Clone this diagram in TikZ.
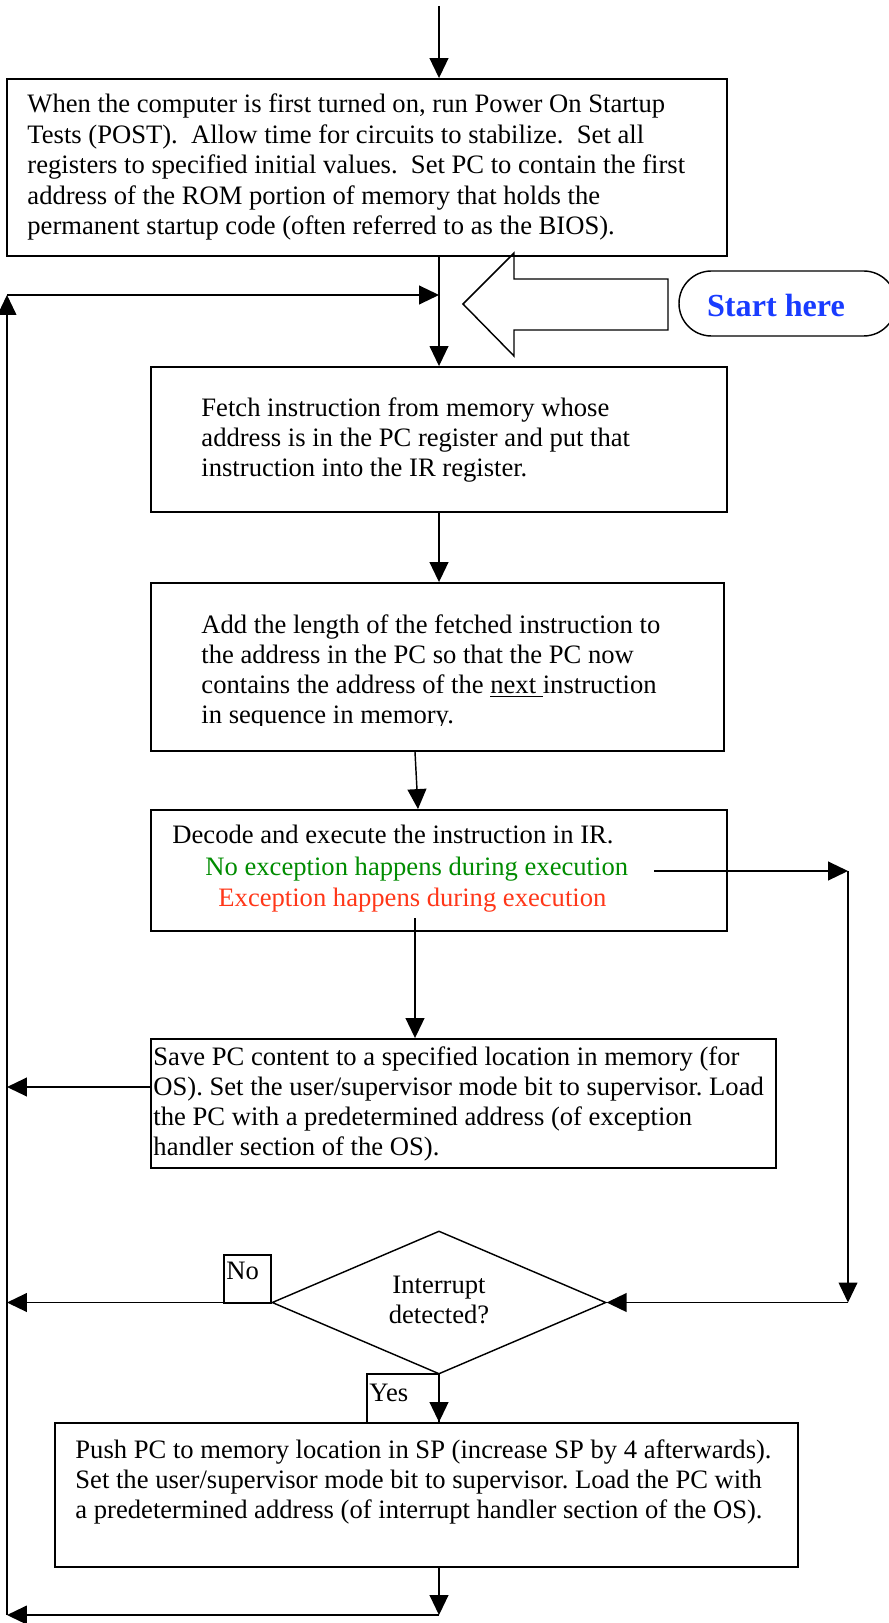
\documentclass[tikz,border=0pt]{standalone}
\usepackage{fontspec}
\setmainfont{Liberation Serif}
\usetikzlibrary{arrows.meta,shapes.geometric,fit}
\definecolor{startblue}{RGB}{25,60,255}
\definecolor{okgreen}{RGB}{0,140,0}
\definecolor{excred}{RGB}{255,55,25}
\frenchspacing
\newcommand\boxlines[2]{\vtop{\baselineskip=#1\lineskiplimit=-20pt\lineskip=0pt\relax #2}}
\begin{document}
\begin{tikzpicture}[x=0.451pt,y=-0.451pt,
  box/.style={draw, line width=0.85pt, inner sep=0pt},
  conn/.style={line width=0.65pt},
  arr/.style={conn, -{Triangle[length=9pt,width=8.5pt]}},
  thinarr/.style={conn, line width=0.5pt, -{Triangle[length=9pt,width=8.5pt]}},
  txt/.style={anchor=base west, inner sep=0pt, font=\fontsize{12}{13.7}\selectfont},
  ctxt/.style={anchor=base, inner sep=0pt, font=\fontsize{12}{13.7}\selectfont},
  lbl/.style={draw, line width=0.5pt, inner sep=0pt}
]
\useasboundingbox (0,0) rectangle (888,1623);
\fill[white] (0,0) rectangle (888,1623);

% boxes
\node[box, fit={(7,79) (727,256)}] (b1) {};
\node[box, fit={(151,367) (727,512)}] (fetch) {};
\node[box, fit={(151,583) (724,751)}] (add) {};
\node[box, fit={(151,810) (727,931)}] (decode) {};
\node[box, fit={(151,1039) (776,1168)}] (save) {};
\node[draw, conn, diamond, inner sep=0pt, minimum width=150.6pt, minimum height=64.5pt] (dia) at (439,1302.5) {};
\node[box, fit={(55,1423) (798,1567)}] (push) {};
\node[draw, conn, rounded corners=14.6pt, inner sep=0pt, fit={(679,271) (896,336)}] (start) {};
\node[lbl, fit={(224,1255) (271,1303)}] (nobox) {};
\node[lbl, fit={(367,1374) (439,1423)}] (yesbox) {};

% big hollow arrow
\draw[conn] (463,304) -- (514,253) -- (514,279) -- (668,279) -- (668,330) -- (514,330) -- (514,356) -- cycle;

% texts
\node[txt] at (27,113) {\boxlines{13.75pt}{%
\hbox{When the computer is first turned on, run Power On Startup}
\hbox{Tests (POST).~~Allow time for circuits to stabilize.~~Set all}
\hbox{registers to specified initial values.~~Set PC to contain the first}
\hbox{address of the ROM portion of memory that holds the}
\hbox{permanent startup code (often referred to as the BIOS).}}};

\node[txt] at (201,417) {\boxlines{13.53pt}{%
\hbox{Fetch instruction from memory whose}
\hbox{address is in the PC register and put that}
\hbox{instruction into the IR register.}}};

\begin{scope}
\clip (151,583) rectangle (724,725);
\node[txt] at (201,633) {\boxlines{13.53pt}{%
\hbox{Add the length of the fetched instruction to}
\hbox{the address in the PC so that the PC now}
\hbox{contains the address of the \underline{next }instruction}
\hbox{in sequence in memory.}}};
\end{scope}

\node[txt] at (172,843) {Decode and execute the instruction in IR.};
\node[txt, text=okgreen] at (205,875) {No exception happens during execution};
\node[txt, text=excred] at (218,906) {Exception happens during execution};

\node[txt] at (153,1065) {\boxlines{13.53pt}{%
\hbox{Save PC content to a specified location in memory (for}
\hbox{OS). Set the user/supervisor mode bit to supervisor. Load}
\hbox{the PC with a predetermined address (of exception}
\hbox{handler section of the OS).}}};

\node[ctxt] at (439,1293) {Interrupt};
\node[ctxt] at (439,1323) {detected?};
\node[txt] at (226,1279) {No};
\node[txt] at (369,1401) {Yes};

\node[txt] at (75,1458) {\boxlines{13.53pt}{%
\hbox{Push PC to memory location in SP (increase SP by 4 afterwards).}
\hbox{Set the user/supervisor mode bit to supervisor. Load the PC with}
\hbox{a predetermined address (of interrupt handler section of the OS).}}};

\node[anchor=base, inner sep=0pt, text=startblue, font=\fontsize{14.5}{17}\selectfont\bfseries] at (776,317) {Start here};

% connectors
\coordinate (top) at (439,6);
\coordinate (ca) at (415,0);
\coordinate (cb) at (418,0);
\coordinate (noexc) at (654,871);
\coordinate (rc) at (848,871);
\coordinate (exc) at (415,918);
\coordinate (lx) at (7,0);
\coordinate (svy) at (0,1087);
\coordinate (bot) at (439,1615);
\coordinate (lt) at (7,295);

\draw[arr] (top) -- (top |- b1.north);
\draw[thinarr] (top |- b1.south) -- (top |- fetch.north);
\draw[arr] (top |- fetch.south) -- (top |- add.north);
\draw[arr] (add.south -| ca) -- (decode.north -| cb);
\draw[arr] (noexc) -- (rc);
\draw[thinarr] (rc) -- (rc |- dia.east);
\draw[arr] (rc |- dia.east) -- (dia.east);
\draw[arr] (exc) -- (exc |- save.north);
\draw[arr] (save.west |- svy) -- (lx |- svy);
\draw[arr] (dia.west) -- (lx |- dia.west);
\draw[arr] (dia.south) -- (push.north -| dia.south);
\draw[arr] (push.south -| bot) -- (bot);
\draw[arr] (bot) -- (lx |- bot);
\draw[thinarr] (lx |- bot) -- (lt);
\draw[arr] (lt) -- (top |- lt);
\end{tikzpicture}
\end{document}
